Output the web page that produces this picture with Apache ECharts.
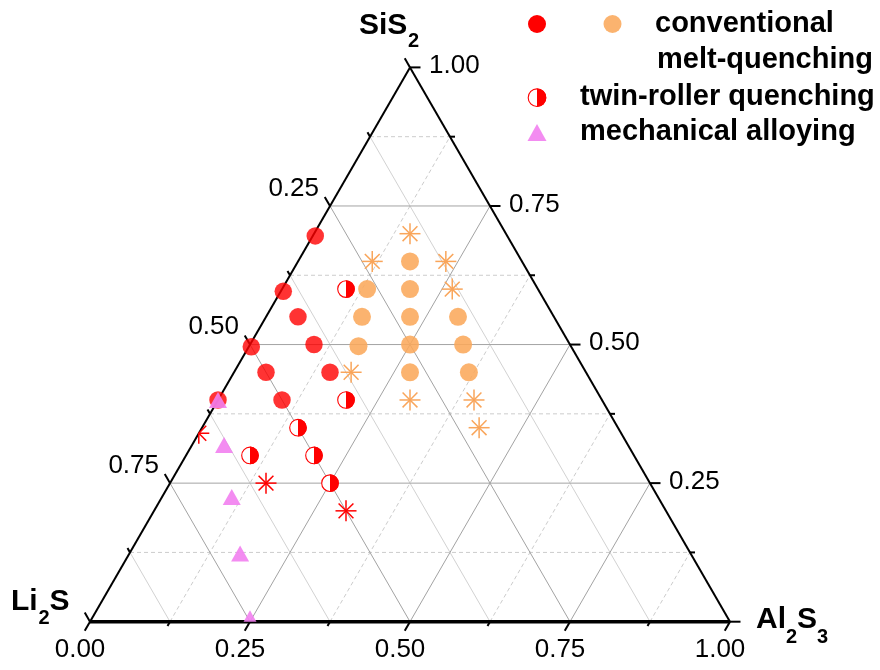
<!DOCTYPE html>
<html><head><meta charset="utf-8">
<script src="https://cdn.jsdelivr.net/npm/echarts@6/dist/echarts.min.js"></script>
<style>html,body{margin:0;padding:0;background:#fff}#c{width:880px;height:670px}</style>
</head><body><div id="c"></div>
<script>
// compositions: [Li2S, SiS2, Al2S3]
const redCircles = [[0.30,0.696,0.004],[0.40,0.596,0.004],[0.40,0.55,0.05],[0.40,0.50,0.10],[0.40,0.45,0.15],[0.50,0.496,0.004],[0.50,0.45,0.05],[0.50,0.40,0.10],[0.60,0.40,0.00]];
const orangeCircles = [[0.175,0.65,0.175],[0.20,0.60,0.20],[0.225,0.55,0.225],[0.25,0.50,0.25],[0.275,0.45,0.275],[0.267,0.60,0.133],[0.30,0.55,0.15],[0.332,0.497,0.171],[0.15,0.55,0.30],[0.167,0.50,0.333],[0.183,0.45,0.367]];
const redStars = [[0.50,0.20,0.30],[0.60,0.25,0.15],[0.66,0.34,0.00]];
const orangeStars = [[0.15,0.70,0.15],[0.234,0.65,0.116],[0.119,0.65,0.231],[0.134,0.60,0.266],[0.367,0.45,0.183],[0.30,0.40,0.30],[0.20,0.40,0.40],[0.217,0.35,0.433]];
const twinRoller = [[0.30,0.60,0.10],[0.40,0.40,0.20],[0.50,0.35,0.15],[0.60,0.30,0.10],[0.50,0.30,0.20],[0.50,0.25,0.25]];
const mechAlloy = [[0.60,0.40,0.00],[0.631,0.319,0.05],[0.666,0.225,0.109],[0.704,0.123,0.173],[0.747,0.006,0.247]];
const majorTicks = [0, 0.25, 0.5, 0.75, 1];
const minorTicks = [0.125, 0.375, 0.625, 0.875];
const bottomLabelVals = [0, 0.25, 0.5, 0.75, 1];
const bottomLabels = ['0.00','0.25','0.50','0.75','1.00'];
const leftLabelVals = [0.25, 0.5, 0.75];
const leftLabels = ['0.25','0.50','0.75'];
const rightLabelVals = [0.25, 0.5, 0.75, 1];
const rightLabels = ['0.25','0.50','0.75','1.00'];

const H = Math.sqrt(3)/2;
function cart(t){ return [t[2] + t[1]/2, t[1]*H]; }
const FONT = 'Liberation Sans, Arial, Helvetica, sans-serif';
const PX = 640; // pixels per unit (layout)

function gridSeg(kind, v){
  if (kind==='si') return [...cart([1-v, v, 0]), ...cart([0, v, 1-v])];
  if (kind==='li') return [...cart([v, 1-v, 0]), ...cart([v, 0, 1-v])];
  return [...cart([1-v, 0, v]), ...cart([0, 1-v, v])];
}
const inner = v => v > 0 && v < 1;
const gridMajor = [];
['si','li','al'].forEach(k => majorTicks.filter(inner).forEach(v => gridMajor.push(gridSeg(k, v))));
const gridMinorSolid = minorTicks.map(v => gridSeg('li', v));
const gridMinorDash = [...minorTicks.map(v => gridSeg('si', v)), ...minorTicks.map(v => gridSeg('al', v))];
const verts = [cart([1,0,0]), cart([0,0,1]), cart([0,1,0])];
const sideEdges = [[...verts[0], ...verts[2]], [...verts[2], ...verts[1]]];
const bottomEdge = [[...verts[0], ...verts[1]]];

const ticks = [];
[...majorTicks, ...minorTicks].forEach(v => {
  const d = (majorTicks.includes(v) ? 10.5 : 5) / PX;
  const b = cart([1-v, 0, v]); ticks.push([b[0], b[1], b[0]-d/2, b[1]-d*H]);
  const l = cart([v, 1-v, 0]); ticks.push([l[0], l[1], l[0]-d/2, l[1]+d*H]);
  const r = cart([0, v, 1-v]); ticks.push([r[0], r[1], r[0]+d, r[1]]);
});

function lineSeries(data, style, z){
  return { type:'custom', coordinateSystem:'cartesian2d', data, z, silent:true, clip:false,
    renderItem(params, api){
      const p0 = api.coord([api.value(0), api.value(1)]), p1 = api.coord([api.value(2), api.value(3)]);
      return { type:'line', shape:{x1:p0[0], y1:p0[1], x2:p1[0], y2:p1[1]}, style: Object.assign({fill:null}, style) };
    } };
}
function labelSeries(vals, texts, toCart, align, dx, dy){
  return { type:'custom', coordinateSystem:'cartesian2d', data: vals.map(v => toCart(v)), z:5, silent:true, clip:false,
    renderItem(params, api){
      const p = api.coord([api.value(0), api.value(1)]);
      return { type:'text', x:p[0]+dx, y:p[1]+dy,
        style:{ text: texts[params.dataIndex], fontSize:26, fontFamily:FONT, fill:'#000', align, verticalAlign:'middle' } };
    } };
}
function triPix(api){ return [api.coord([0,0]), api.coord([1,0]), api.coord([0.5,H])]; }
function clipSeg(p0, p1, tri){
  const g = [(tri[0][0]+tri[1][0]+tri[2][0])/3, (tri[0][1]+tri[1][1]+tri[2][1])/3];
  let t0 = 0, t1 = 1;
  for (let i=0;i<3;i++){
    const a = tri[i], b = tri[(i+1)%3];
    const cr = p => (b[0]-a[0])*(p[1]-a[1]) - (b[1]-a[1])*(p[0]-a[0]);
    const s = Math.sign(cr(g));
    const f0 = s*cr(p0), f1 = s*cr(p1);
    if (f0 < 0.5 && f1 < 0.5) return null;
    if (f0 < 0) t0 = Math.max(t0, f0/(f0-f1));
    else if (f1 < 0) t1 = Math.min(t1, f0/(f0-f1));
  }
  if (t1 <= t0) return null;
  return [[p0[0]+(p1[0]-p0[0])*t0, p0[1]+(p1[1]-p0[1])*t0],[p0[0]+(p1[0]-p0[0])*t1, p0[1]+(p1[1]-p0[1])*t1]];
}
function starSeries(pts, color){
  return { type:'custom', coordinateSystem:'cartesian2d', data: pts.map(cart), z:8, silent:true, clip:false,
    renderItem(params, api){
      const c = api.coord([api.value(0), api.value(1)]);
      const tri = triPix(api), r = 10.5, children = [];
      for (let k=0;k<8;k++){
        const a = k*Math.PI/4;
        const seg = clipSeg(c, [c[0]+r*Math.cos(a), c[1]+r*Math.sin(a)], tri);
        if (seg) children.push({ type:'line', shape:{x1:seg[0][0], y1:seg[0][1], x2:seg[1][0], y2:seg[1][1]}, style:{stroke:color, lineWidth:1.5} });
      }
      return { type:'group', children };
    } };
}

const txt = (x, y, text, size) => ({ type:'text', x, y, style:{ text, font:'bold '+size+'px '+FONT, fill:'#000', align:'left', verticalAlign:'middle' } });

const chart = echarts.init(document.getElementById('c'), null, {renderer:'canvas'});
chart.setOption({
  animation:false,
  backgroundColor:'#fff',
  grid:{ left:90, top:67.4, width:640, height:554.3, outerBoundsMode:'none', containLabel:false },
  xAxis:{ type:'value', min:0, max:1, show:false },
  yAxis:{ type:'value', min:0, max:H, show:false },
  series:[
    lineSeries(gridMinorDash, {stroke:'#cccccc', lineWidth:1, lineDash:[4,3]}, 1),
    lineSeries(gridMinorSolid, {stroke:'#d2d2d2', lineWidth:1}, 1),
    lineSeries(gridMajor, {stroke:'#a3a3a3', lineWidth:1}, 1),
    lineSeries(sideEdges, {stroke:'#000', lineWidth:2}, 3),
    lineSeries(bottomEdge, {stroke:'#000', lineWidth:3.5}, 3),
    lineSeries(ticks, {stroke:'#000', lineWidth:2}, 3),
    labelSeries(bottomLabelVals, bottomLabels, v => cart([1-v,0,v]), 'center', -10, 28.5),
    labelSeries(leftLabelVals, leftLabels, v => cart([v,1-v,0]), 'right', -11, -17.5),
    labelSeries(rightLabelVals, rightLabels, v => cart([0,v,1-v]), 'left', 19, -1.5),
    { type:'scatter', data: orangeCircles.map(cart), symbol:'circle', symbolSize:18, z:6, silent:true,
      itemStyle:{ color:'#fba85b', opacity:0.88 } },
    { type:'scatter', data: redCircles.map(cart), symbol:'circle', symbolSize:17.5, z:6, silent:true,
      itemStyle:{ color:'#ff0000' } },
    { type:'custom', coordinateSystem:'cartesian2d', data: twinRoller.map(cart), z:7, silent:true, clip:false,
      renderItem(params, api){
        const c = api.coord([api.value(0), api.value(1)]), r = 8.3;
        return { type:'group', children:[
          { type:'circle', shape:{cx:c[0], cy:c[1], r}, style:{fill:'#fff', stroke:'#ff0000', lineWidth:1.1} },
          { type:'sector', shape:{cx:c[0], cy:c[1], r0:0, r:r+0.5, startAngle:-Math.PI/2, endAngle:Math.PI/2, clockwise:true}, style:{fill:'#ff0000'} }
        ] };
      } },
    starSeries(orangeStars, '#f9a55a'),
    starSeries(redStars, '#ff0000'),
    { type:'custom', coordinateSystem:'cartesian2d', data: mechAlloy.map(cart), z:9, silent:true, clip:true,
      renderItem(params, api){
        const c = api.coord([api.value(0), api.value(1)]), w = 18, h = 16;
        return { type:'polygon', shape:{points:[[c[0], c[1]-h/2],[c[0]+w/2, c[1]+h/2],[c[0]-w/2, c[1]+h/2]]},
          style:{fill:'#f27ff0', opacity:0.9} };
      } }
  ],
  graphic:[
    txt(359, 26, 'SiS', 30), txt(408, 41, '2', 20),
    txt(11, 602, 'Li', 30), txt(38.5, 618, '2', 20), txt(49.5, 602, 'S', 30),
    txt(756, 620, 'Al', 30), txt(786, 637, '2', 20), txt(797, 620, 'S', 30), txt(817, 637, '3', 20),
    { type:'circle', shape:{cx:537, cy:24, r:9}, style:{fill:'#ff0000'} },
    { type:'circle', shape:{cx:612.5, cy:24, r:9}, style:{fill:'#fba85b', opacity:0.88} },
    txt(655, 23.5, 'conventional', 29),
    txt(657, 60, 'melt-quenching', 29),
    { type:'circle', shape:{cx:537, cy:97.7, r:8.8}, style:{fill:'#fff', stroke:'#ff0000', lineWidth:1.1} },
    { type:'sector', shape:{cx:537, cy:97.7, r0:0, r:9.3, startAngle:-Math.PI/2, endAngle:Math.PI/2, clockwise:true}, style:{fill:'#ff0000'} },
    txt(580, 96.5, 'twin-roller quenching', 29),
    { type:'polygon', shape:{points:[[537,124],[546.5,141],[527.5,141]]}, style:{fill:'#f27ff0', opacity:0.9} },
    txt(580, 131.5, 'mechanical alloying', 29)
  ]
});
</script></body></html>
